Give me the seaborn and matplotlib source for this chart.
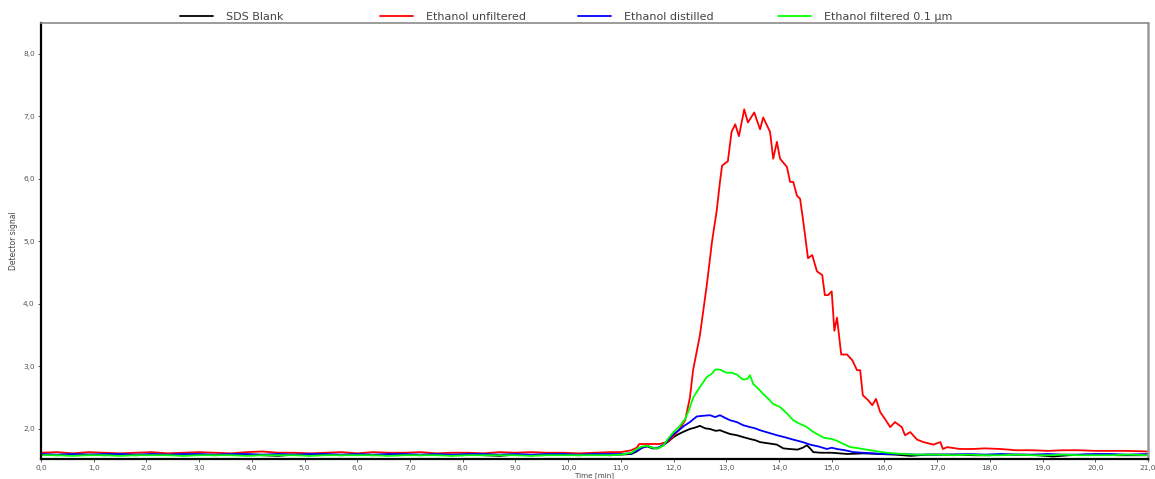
import numpy as np
import pandas as pd
import matplotlib
matplotlib.use("Agg")
import matplotlib.pyplot as plt
import seaborn as sns
from matplotlib.ticker import FuncFormatter, FixedLocator

# ---------------- data ----------------
series_names = ["SDS Blank", "Ethanol unfiltered", "Ethanol distilled", "Ethanol filtered 0.1 µm"]
series_colors = ["#000000", "#ff0000", "#0000ff", "#00ff00"]

base_t = [0.0, 0.3, 0.6, 0.9, 1.2, 1.5, 1.8, 2.1, 2.4, 2.7, 3.0, 3.3, 3.6, 3.9, 4.2, 4.5,
          4.8, 5.1, 5.4, 5.7, 6.0, 6.3, 6.6, 6.9, 7.2, 7.5, 7.8, 8.1, 8.4, 8.7, 9.0, 9.3,
          9.6, 9.9, 10.2, 10.5, 10.8]

# SDS Blank (black)
blank_t = base_t + [11.0, 11.2, 11.3, 11.4, 11.5, 11.6, 11.7, 11.8, 11.9, 12.0, 12.1, 12.2,
                    12.31, 12.4, 12.5, 12.6, 12.69, 12.8, 12.88, 12.97, 13.07, 13.2, 13.32,
                    13.45, 13.55, 13.64, 13.8, 13.96, 14.08, 14.2, 14.35, 14.45, 14.53, 14.6,
                    14.65, 14.8, 15.0, 15.3, 15.6, 15.9, 16.2, 16.5, 16.8, 17.1, 17.4, 17.7,
                    18.0, 18.3, 18.6, 18.9, 19.2, 19.5, 19.8, 20.1, 20.4, 20.7, 21.0]
blank_v = [1.59, 1.58, 1.59, 1.59, 1.58, 1.59, 1.58, 1.59, 1.59, 1.58, 1.59, 1.58, 1.59,
           1.59, 1.58, 1.57, 1.59, 1.58, 1.59, 1.58, 1.59, 1.58, 1.59, 1.59, 1.58, 1.59,
           1.58, 1.59, 1.58, 1.57, 1.59, 1.58, 1.59, 1.59, 1.58, 1.59, 1.58,
           1.59, 1.60, 1.64, 1.70, 1.72, 1.69, 1.69, 1.74, 1.80, 1.87, 1.92, 1.96,
           2.00, 2.02, 2.05, 2.01, 2.00, 1.97, 1.98, 1.95, 1.92, 1.90, 1.87,
           1.84, 1.82, 1.79, 1.77, 1.75, 1.69, 1.68, 1.67, 1.70, 1.74, 1.68,
           1.63, 1.62, 1.62, 1.60, 1.61, 1.60, 1.59, 1.57, 1.59, 1.59, 1.59, 1.58,
           1.58, 1.59, 1.59, 1.58, 1.56, 1.58, 1.59, 1.59, 1.58, 1.58, 1.58]

# Ethanol unfiltered (red)
unf_t = base_t + [11.0, 11.2, 11.3, 11.35, 11.5, 11.74, 11.9, 12.0, 12.1, 12.22, 12.31, 12.37,
                  12.5, 12.63, 12.73, 12.82, 12.88, 12.92, 13.03, 13.1, 13.17, 13.24, 13.34,
                  13.41, 13.53, 13.64, 13.7, 13.83, 13.89, 13.96, 14.02, 14.15, 14.21, 14.27,
                  14.34, 14.4, 14.46, 14.55, 14.63, 14.72, 14.82, 14.87, 14.93, 15.0, 15.05,
                  15.1, 15.18, 15.29, 15.39, 15.48, 15.54, 15.59, 15.69, 15.77, 15.84, 15.92,
                  16.01, 16.11, 16.2, 16.33, 16.39, 16.49, 16.62, 16.74, 16.93, 17.06, 17.11,
                  17.19, 17.43, 17.68, 17.9, 18.2, 18.5, 18.8, 19.1, 19.4, 19.7, 20.0, 20.3,
                  20.6, 21.0]
unf_v = [1.62, 1.63, 1.61, 1.63, 1.62, 1.61, 1.62, 1.63, 1.61, 1.62, 1.63, 1.62, 1.61,
         1.63, 1.64, 1.62, 1.62, 1.61, 1.62, 1.63, 1.61, 1.63, 1.62, 1.62, 1.63, 1.61,
         1.62, 1.62, 1.61, 1.63, 1.62, 1.63, 1.62, 1.62, 1.61, 1.62, 1.63,
         1.63, 1.66, 1.70, 1.76, 1.76, 1.76, 1.80, 1.89, 1.98, 2.14, 2.50, 2.94,
         3.50, 4.30, 5.00, 5.50, 5.95, 6.21, 6.28, 6.75, 6.87, 6.68, 7.11,
         6.90, 7.06, 6.79, 6.98, 6.75, 6.32, 6.59, 6.32, 6.19, 5.95, 5.95,
         5.73, 5.68, 5.32, 4.73, 4.78, 4.52, 4.46, 4.14, 4.14, 4.20, 3.57,
         3.78, 3.19, 3.19, 3.10, 2.94, 2.94, 2.54, 2.46, 2.38, 2.48, 2.27,
         2.16, 2.03, 2.11, 2.03, 1.90, 1.95, 1.83, 1.79, 1.75, 1.79, 1.68,
         1.71, 1.68, 1.68, 1.69, 1.68, 1.66, 1.66, 1.65, 1.66, 1.66, 1.65, 1.65,
         1.65, 1.64]

# Ethanol distilled (blue)
dist_t = base_t + [11.0, 11.2, 11.3, 11.4, 11.5, 11.6, 11.7, 11.8, 11.9, 12.0, 12.1, 12.2,
                   12.31, 12.44, 12.55, 12.69, 12.79, 12.88, 12.97, 13.07, 13.2, 13.32, 13.45,
                   13.55, 13.64, 13.8, 13.96, 14.1, 14.27, 14.45, 14.59, 14.75, 14.91, 15.0,
                   15.1, 15.25, 15.41, 15.6, 15.8, 16.0, 16.3, 16.6, 17.0, 17.3, 17.6, 17.9,
                   18.2, 18.5, 18.8, 19.1, 19.4, 19.7, 20.0, 20.3, 20.6, 21.0]
dist_v = [1.60, 1.59, 1.60, 1.59, 1.60, 1.60, 1.59, 1.60, 1.59, 1.60, 1.60, 1.59, 1.60,
          1.60, 1.59, 1.60, 1.59, 1.60, 1.60, 1.59, 1.60, 1.59, 1.60, 1.60, 1.59, 1.60,
          1.59, 1.60, 1.60, 1.59, 1.60, 1.59, 1.60, 1.60, 1.59, 1.60, 1.60,
          1.60, 1.61, 1.65, 1.70, 1.73, 1.70, 1.70, 1.74, 1.82, 1.92, 1.98, 2.05,
          2.11, 2.20, 2.21, 2.22, 2.19, 2.22, 2.18, 2.14, 2.11, 2.06, 2.03,
          2.01, 1.98, 1.94, 1.90, 1.87, 1.83, 1.79, 1.75, 1.72, 1.68, 1.70,
          1.68, 1.66, 1.63, 1.62, 1.61, 1.60, 1.60, 1.59, 1.59, 1.59, 1.60, 1.59,
          1.60, 1.59, 1.59, 1.60, 1.59, 1.59, 1.60, 1.60, 1.59, 1.60]

# Ethanol filtered 0.1 µm (green)
filt_t = base_t + [11.0, 11.2, 11.3, 11.4, 11.5, 11.6, 11.7, 11.8, 11.9, 12.0, 12.1, 12.22,
                   12.3, 12.37, 12.5, 12.63, 12.72, 12.79, 12.88, 12.95, 13.01, 13.1, 13.2,
                   13.27, 13.32, 13.4, 13.45, 13.51, 13.6, 13.7, 13.8, 13.89, 14.02, 14.15,
                   14.27, 14.4, 14.53, 14.62, 14.72, 14.85, 15.0, 15.1, 15.2, 15.35, 15.45,
                   15.59, 15.8, 16.05, 16.35, 16.6, 17.0, 17.3, 17.6, 17.9, 18.2, 18.5, 18.8,
                   19.1, 19.4, 19.7, 20.0, 20.3, 20.6, 21.0]
filt_v = [1.58, 1.58, 1.57, 1.58, 1.58, 1.57, 1.58, 1.58, 1.58, 1.57, 1.58, 1.58, 1.58,
          1.57, 1.58, 1.58, 1.58, 1.57, 1.58, 1.58, 1.58, 1.58, 1.57, 1.58, 1.58, 1.58,
          1.57, 1.58, 1.58, 1.58, 1.58, 1.57, 1.58, 1.58, 1.58, 1.58, 1.58,
          1.59, 1.62, 1.68, 1.72, 1.73, 1.70, 1.69, 1.73, 1.85, 1.95, 2.03, 2.16,
          2.32, 2.50, 2.67, 2.83, 2.88, 2.95, 2.95, 2.92, 2.90, 2.90, 2.87,
          2.82, 2.79, 2.80, 2.86, 2.72, 2.65, 2.56, 2.48, 2.40, 2.35, 2.25,
          2.14, 2.08, 2.03, 1.97, 1.92, 1.86, 1.84, 1.81, 1.77, 1.71, 1.70,
          1.68, 1.65, 1.62, 1.60, 1.59, 1.59, 1.58, 1.59, 1.58, 1.58, 1.59, 1.58,
          1.58, 1.59, 1.58, 1.58, 1.58, 1.59, 1.58]

x_ticks = [float(i) for i in range(0, 22)]
y_ticks = [2.0, 3.0, 4.0, 5.0, 6.0, 7.0, 8.0]

# ---------------- build table ----------------
frames = []
for name, t, v in zip(series_names, [blank_t, unf_t, dist_t, filt_t],
                      [blank_v, unf_v, dist_v, filt_v]):
    assert len(t) == len(v), (name, len(t), len(v))
    frames.append(pd.DataFrame({"time": t, "signal": v, "series": name}))
df = pd.concat(frames, ignore_index=True)

# ---------------- plot ----------------
sns.set_style("white")
plt.rcParams["font.family"] = ["DejaVu Sans"]

W, H = 1155, 479
fig = plt.figure(figsize=(W / 100, H / 100), dpi=100)
ax_bottom_px = 20
ax_top_px = 23
ax_h = (H - ax_bottom_px - ax_top_px) / H
ax_w = (1148 - 41) / W
ax = fig.add_axes([41 / W, ax_bottom_px / H, ax_w, ax_h])

sns.lineplot(data=df, x="time", y="signal", hue="series", hue_order=series_names,
             palette=dict(zip(series_names, series_colors)), estimator=None, sort=False,
             linewidth=1.3, ax=ax)

ax.set_xlim(0, 21)
ax.set_ylim(1.52, 8.49)
ax.xaxis.set_major_locator(FixedLocator(x_ticks))
ax.yaxis.set_major_locator(FixedLocator(y_ticks))
fmt = FuncFormatter(lambda v, p: f"{v:.1f}".replace(".", ","))
ax.xaxis.set_major_formatter(fmt)
ax.yaxis.set_major_formatter(fmt)
ax.tick_params(axis="both", which="major", labelsize=5.3, labelcolor="#555555",
               length=2.5, width=0.6, color="#444444", pad=1.5, bottom=True, left=True)
ax.tick_params(axis="y", pad=2)

ax.set_xlabel("Time [min]", fontsize=5.2, color="#444444", va="bottom")
ax.xaxis.set_label_coords(0.5, -(ax_bottom_px - 0.3) / H / ax_h)
ax.set_ylabel("Detector signal", fontsize=5.5, color="#444444", va="center")
ax.yaxis.set_label_coords(-28 / W / ax_w, 0.5)

for side in ["left", "bottom"]:
    ax.spines[side].set_color("#000000")
    ax.spines[side].set_linewidth(1.6)
ax.spines["top"].set_color("#8a8a8a")
ax.spines["top"].set_linewidth(1.2)
ax.spines["right"].set_color("#9a9a9a")
ax.spines["right"].set_linewidth(1.8)
for s in ax.spines.values():
    s.set_visible(True)

# legend: four entries evenly spaced above the plot
handles, labels = ax.get_legend_handles_labels()
ax.get_legend().remove()
x_starts = [180, 380, 578, 778]
for h, lab, xs in zip(handles, labels, x_starts):
    h.set_linewidth(1.3)
    fig.legend([h], [lab], loc="center left",
               bbox_to_anchor=(xs / W, 1 - 17 / H),
               bbox_transform=fig.transFigure, frameon=False,
               fontsize=8, handlelength=3.0, handletextpad=1.1,
               borderpad=0, borderaxespad=0, labelcolor="#444444")

fig.savefig("out.png", dpi=100)
